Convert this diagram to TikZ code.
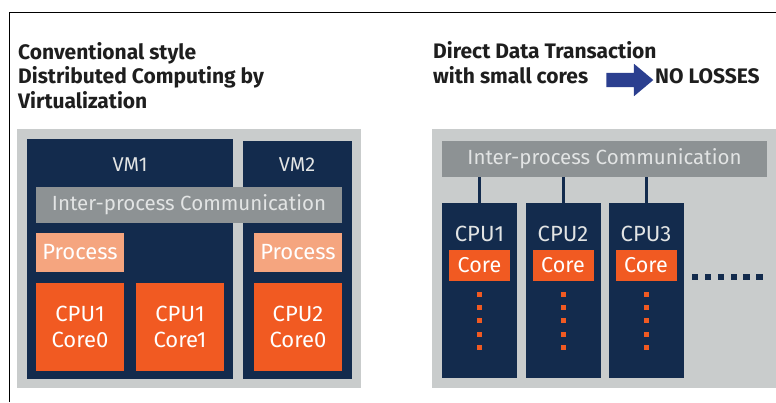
\documentclass[tikz,border=0pt]{standalone}
\usepackage{fontspec}
\setmainfont{Fira Sans}
\usetikzlibrary{positioning,shapes.arrows}

\definecolor{navy}{HTML}{132B4D}
\definecolor{panelgray}{HTML}{C9CCCC}
\definecolor{ipcgray}{HTML}{8D9294}
\definecolor{ipctext}{HTML}{E2E4E4}
\definecolor{coreorange}{HTML}{F15A22}
\definecolor{procorange}{HTML}{F5A57F}
\definecolor{arrowblue}{HTML}{2B3F8F}
\definecolor{titlegray}{HTML}{1E1E1E}

\tikzset{
	title/.style={anchor=base west, align=left, inner sep=0, text=titlegray,
		font=\bfseries\fontsize{21}{24.5}\selectfont},
	ipcbar/.style={fill=ipcgray, text=ipctext, inner sep=0,
		font=\fontsize{20.5}{24}\selectfont},
	procbox/.style={fill=procorange, text=white, inner sep=0,
		minimum width=88pt, minimum height=39pt, font=\fontsize{22}{24}\selectfont},
	cpubox/.style={fill=coreorange, text=white, inner sep=0, align=center,
		minimum width=88pt, minimum height=88pt, font=\fontsize{22}{26}\selectfont},
	vmlabel/.style={text=ipctext, inner sep=0, font=\fontsize{20}{24}\selectfont},
	column/.style={fill=navy, inner sep=0, minimum width=75pt, minimum height=175pt},
	corebox/.style={fill=coreorange, text=white, inner sep=0,
		minimum width=61pt, minimum height=31pt, font=\fontsize{21.5}{24}\selectfont},
}

\begin{document}
\begin{tikzpicture}[x=1pt, y=-1pt]
	\useasboundingbox (0, 0) rectangle (776, 402);
	\draw[line width=1pt] (9, 402) -- (9, 12) -- (776, 12);

	% titles
	\node[title] (conv1) at (18, 59) {Conventional style};
	\node[title] (conv2) at (18, 83.5) {Distributed Computing by};
	\node[title] (conv3) at (18, 108) {Virtualization};
	\node[title] (direct) at (433, 58) {Direct Data Transaction};
	\node[title] (cores) at (433, 83) {with small cores};
	\node[single arrow, fill=arrowblue, inner xsep=0, inner ysep=7pt, minimum width=32pt,
		single arrow head extend=9pt, single arrow tip angle=80,
		minimum height=47pt] (arrow) at (625.5, 80) {};
	\node[title] (loss) at (655, 83) {NO LOSSES};

	% conventional side
	\fill[panelgray] (17, 129) rectangle (361, 388);
	\fill[navy] (27, 139) rectangle (233, 379);
	\fill[navy] (243, 141) rectangle (352, 379);
	\node[vmlabel] (vm1) at (130, 165) {VM1};
	\node[vmlabel] (vm2) at (297, 165) {VM2};
	\node[ipcbar, minimum width=306pt, minimum height=36pt] (ipcL) at (189, 205) {Inter-process Communication};
	\node[procbox] (procA) at (80, 252.5) {Process};
	\node[procbox] (procB) at (298, 252.5) {Process};
	\node[cpubox] (cpuA) at (80, 327) {CPU1\\Core0};
	\node[cpubox] (cpuB) at (180, 327) {CPU1\\Core1};
	\node[cpubox] (cpuC) at (298, 327) {CPU2\\Core0};

	% direct side
	\fill[panelgray] (432, 129) rectangle (776, 388);
	\node[ipcbar, minimum width=325pt, minimum height=36pt] (ipcR) at (604.5, 159) {Inter-process Communication};
	\foreach \n/\x in {1/479.5, 2/563, 3/646} {
		\node[column] (col\n) at (\x, 290.5) {};
		\draw[navy, line width=3pt] (col\n.north) -- (col\n.north |- ipcR.south);
		\node[vmlabel, font=\fontsize{22}{24}\selectfont] (cpu\n) at (\x, 234) {CPU\n};
		\node[corebox] (core\n) at (\x, 265.5) {Core};
		\foreach \y in {294, 307.3, 320.6, 334, 347.3}
			\fill[coreorange] (\x-2.5, \y-2.5) rectangle (\x+2.5, \y+2.5);
	}
	\foreach \i in {0, ..., 5}
		\fill[navy] (695+12.9*\i-3.2, 273.8) rectangle (695+12.9*\i+3.2, 280.2);
\end{tikzpicture}
\end{document}
